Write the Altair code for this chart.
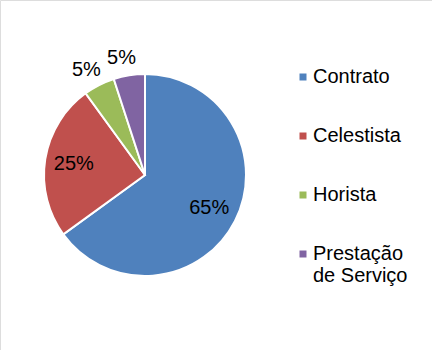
import altair as alt
import pandas as pd

categories = ["Contrato", "Celestista", "Horista", "Prestação de Serviço"]
values = [65, 25, 5, 5]
colors = ["#4F81BD", "#C0504D", "#9BBB59", "#8064A2"]

df = pd.DataFrame({"cat": categories, "value": values, "order": list(range(len(values)))})
df["label"] = [f"{v}%" for v in values]

color_scale = alt.Scale(domain=categories, range=colors)

arcs = alt.Chart(df).mark_arc(stroke="white", strokeWidth=2, outerRadius=101).encode(
    theta=alt.Theta("value:Q", stack=True),
    order=alt.Order("order:Q"),
    x=alt.value(145),
    y=alt.value(175),
    color=alt.Color(
        "cat:N",
        scale=color_scale,
        sort=categories,
        legend=alt.Legend(
            title=None,
            orient="none",
            legendX=293,
            legendY=67,
            symbolType="square",
            symbolSize=49,
            symbolStrokeWidth=0,
            labelFont="Liberation Sans",
            labelFontSize=20,
            labelColor="black",
            labelOffset=0,
            rowPadding=39,
            labelLimit=200,
            labelExpr="datum.label == 'Prestação de Serviço' ? ['Prestação', 'de Serviço'] : datum.label",
        ),
    ),
)

label_base = alt.Chart(df).transform_stack(
    stack="value", groupby=[], as_=["v0", "v1"], sort=[alt.SortField("order")]
).transform_calculate(
    mid="(datum.v0 + datum.v1) / 2",
    r="datum.value < 10 ? 118 : 72",
).encode(
    theta=alt.Theta("mid:Q", stack=None, scale=alt.Scale(domain=[0, 100])),
    x=alt.value(145),
    y=alt.value(175),
    radius=alt.Radius("r:Q", scale=None),
    text="label:N",
)

inner = label_base.transform_filter(alt.datum.value >= 10).mark_text(
    font="Liberation Sans", fontSize=20, color="black"
)
outer = label_base.transform_filter(alt.datum.value < 10).mark_text(
    font="Liberation Sans", fontSize=20, color="black", dx=-5
)

chart = alt.layer(arcs, inner, outer).resolve_scale(theta="independent").properties(
    width=432,
    height=350,
    padding=0,
    autosize=alt.AutoSizeParams(type="none"),
).configure_view(stroke="#D9D9D9", strokeWidth=2).configure(background="white")

chart.save("out.html", embed_options={"renderer": "svg", "actions": False})
